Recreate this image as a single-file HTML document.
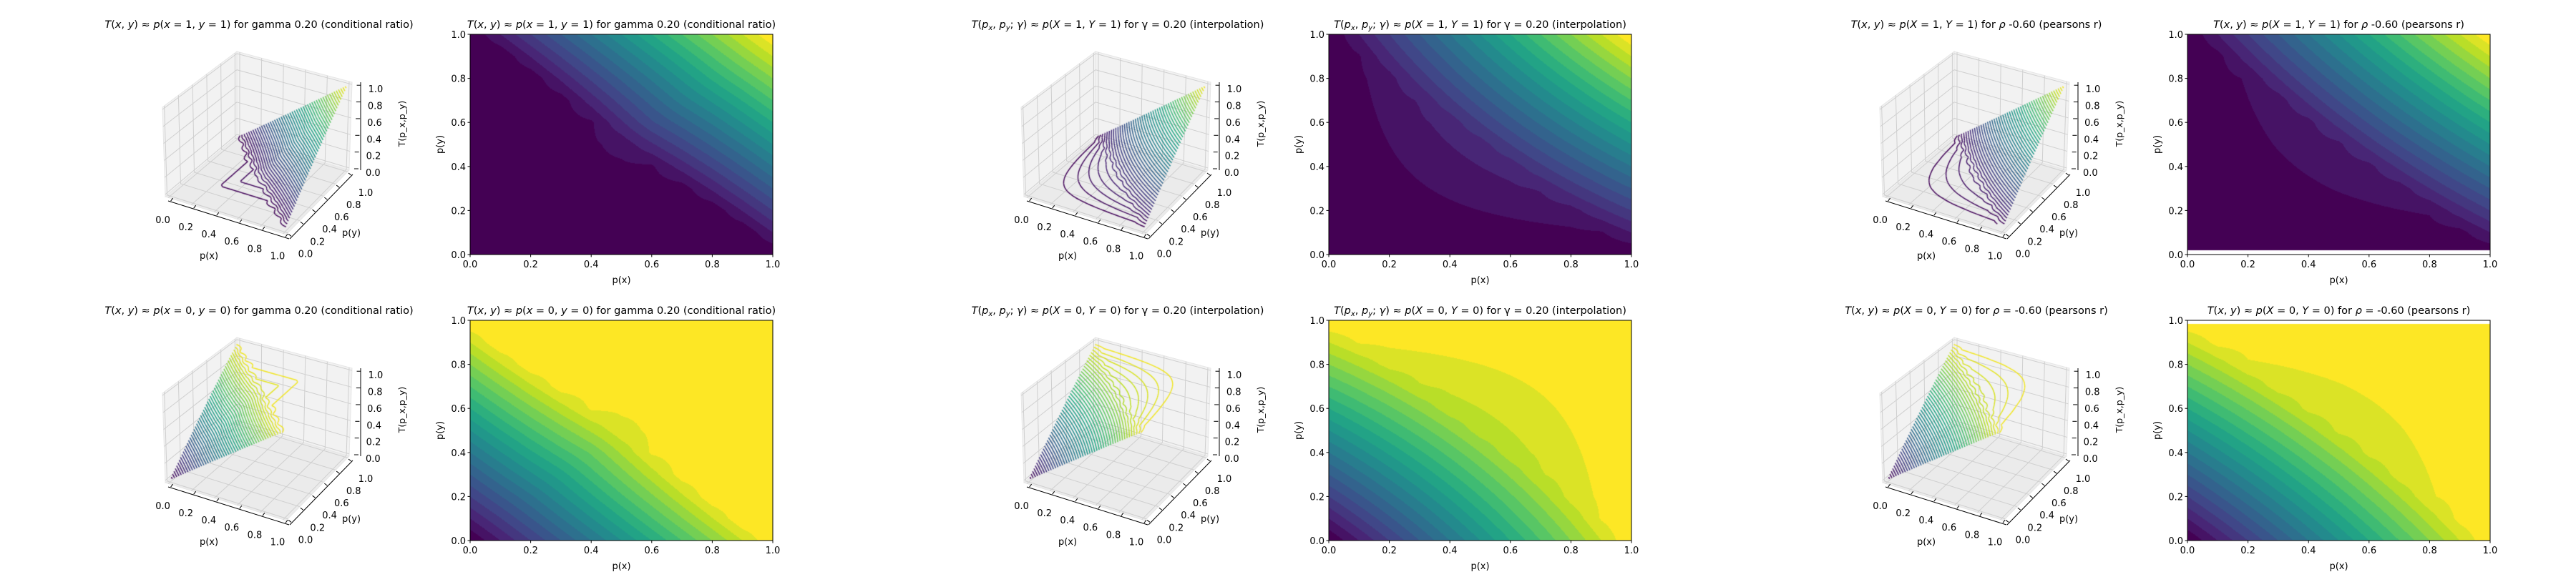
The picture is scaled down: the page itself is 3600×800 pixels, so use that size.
<!DOCTYPE html>
<html><head><meta charset="utf-8">
<style>
body{margin:0;background:#fff;width:3600px;height:800px;overflow:hidden;position:relative;font-family:"DejaVu Sans","Liberation Sans",sans-serif}
svg,canvas{position:absolute;left:0;top:0}
text{font-family:"DejaVu Sans","Liberation Sans",sans-serif;fill:#000}
</style></head>
<body>
<svg id="under" width="3600" height="800"></svg>
<canvas id="cv" width="3600" height="800"></canvas>
<svg id="over" width="3600" height="800"></svg>
<script>
// ---- chart data ----
const tickValues = [0, 0.2, 0.4, 0.6, 0.8, 1.0];
const tickLabels = ['0.0', '0.2', '0.4', '0.6', '0.8', '1.0'];
const fillLevelStep = 0.05;
const lineLevelCount = 50;
// grids: rows = p(y) 0..1 step 0.1, cols = p(x) 0..1 step 0.1
const gridCond11 = [
[0,0,0,0,0,0,0,0,0,0,0],
[0,.003,.003,.003,.003,.003,.003,.003,.003,.003,.1],
[0,.003,.01,.01,.01,.01,.01,.01,.01,.103,.2],
[0,.003,.01,.023,.023,.023,.023,.023,.11,.203,.3],
[0,.003,.01,.023,.042,.042,.042,.123,.21,.303,.4],
[0,.003,.01,.023,.042,.065,.142,.223,.31,.403,.5],
[0,.003,.01,.023,.042,.142,.242,.323,.41,.503,.6],
[0,.003,.01,.023,.123,.223,.323,.423,.51,.603,.7],
[0,.003,.01,.11,.21,.31,.41,.51,.61,.703,.8],
[0,.003,.103,.203,.303,.403,.503,.603,.703,.803,.9],
[0,.1,.2,.3,.4,.5,.6,.7,.8,.9,1]];
const gridCond00 = [
[0,.1,.2,.3,.4,.5,.6,.7,.8,.9,1],
[.1,.197,.297,.397,.497,.597,.697,.797,.897,.997,1],
[.2,.297,.39,.49,.59,.69,.79,.89,.99,.997,1],
[.3,.397,.49,.577,.677,.777,.877,.977,.99,.997,1],
[.4,.497,.59,.677,.758,.858,.958,.977,.99,.997,1],
[.5,.597,.69,.777,.858,.935,.958,.977,.99,.997,1],
[.6,.697,.79,.877,.958,.958,.958,.977,.99,.997,1],
[.7,.797,.89,.977,.977,.977,.977,.977,.99,.997,1],
[.8,.897,.99,.99,.99,.99,.99,.99,.99,.997,1],
[.9,.997,.997,.997,.997,.997,.997,.997,.997,.997,1],
[1,1,1,1,1,1,1,1,1,1,1]];
const gridInterp11 = [
[0,0,0,0,0,0,0,0,0,0,0],
[0,.005,.01,.015,.02,.025,.03,.035,.04,.045,.1],
[0,.01,.02,.03,.04,.05,.06,.07,.08,.14,.2],
[0,.015,.03,.045,.06,.075,.09,.105,.17,.235,.3],
[0,.02,.04,.06,.08,.1,.12,.19,.26,.33,.4],
[0,.025,.05,.075,.1,.125,.2,.275,.35,.425,.5],
[0,.03,.06,.09,.12,.2,.28,.36,.44,.52,.6],
[0,.035,.07,.105,.19,.275,.36,.445,.53,.615,.7],
[0,.04,.08,.17,.26,.35,.44,.53,.62,.71,.8],
[0,.045,.14,.235,.33,.425,.52,.615,.71,.805,.9],
[0,.1,.2,.3,.4,.5,.6,.7,.8,.9,1]];
const gridInterp00 = [
[0,.1,.2,.3,.4,.5,.6,.7,.8,.9,1],
[.1,.195,.29,.385,.48,.575,.67,.765,.86,.955,1],
[.2,.29,.38,.47,.56,.65,.74,.83,.92,.96,1],
[.3,.385,.47,.555,.64,.725,.81,.895,.93,.965,1],
[.4,.48,.56,.64,.72,.8,.88,.91,.94,.97,1],
[.5,.575,.65,.725,.8,.875,.9,.925,.95,.975,1],
[.6,.67,.74,.81,.88,.9,.92,.94,.96,.98,1],
[.7,.765,.83,.895,.91,.925,.94,.955,.97,.985,1],
[.8,.86,.92,.93,.94,.95,.96,.97,.98,.99,1],
[.9,.955,.96,.965,.97,.975,.98,.985,.99,.995,1],
[1,1,1,1,1,1,1,1,1,1,1]];
const gridPearson11 = [
[0,0,0,0,0,0,0,0,0,0,0],
[0,.004,.007,.011,.014,.018,.021,.025,.028,.032,.1],
[0,.007,.014,.021,.028,.035,.042,.049,.056,.128,.2],
[0,.011,.021,.032,.042,.053,.063,.074,.149,.225,.3],
[0,.014,.028,.042,.056,.07,.084,.163,.242,.321,.4],
[0,.018,.035,.053,.07,.088,.17,.253,.335,.418,.5],
[0,.021,.042,.063,.084,.17,.256,.342,.428,.514,.6],
[0,.025,.049,.074,.163,.253,.342,.432,.521,.611,.7],
[0,.028,.056,.149,.242,.335,.428,.521,.614,.707,.8],
[0,.032,.128,.225,.321,.418,.514,.611,.707,.804,.9],
[0,.1,.2,.3,.4,.5,.6,.7,.8,.9,1]];
const gridPearson00 = [
[0,.1,.2,.3,.4,.5,.6,.7,.8,.9,1],
[.1,.196,.293,.389,.486,.582,.679,.775,.872,.968,1],
[.2,.293,.386,.479,.572,.665,.758,.851,.944,.972,1],
[.3,.389,.479,.568,.658,.747,.837,.926,.951,.975,1],
[.4,.486,.572,.658,.744,.83,.916,.937,.958,.979,1],
[.5,.582,.665,.747,.83,.912,.93,.947,.965,.982,1],
[.6,.679,.758,.837,.916,.93,.944,.958,.972,.986,1],
[.7,.775,.851,.926,.937,.947,.958,.968,.979,.989,1],
[.8,.872,.944,.951,.958,.965,.972,.979,.986,.993,1],
[.9,.968,.972,.975,.979,.982,.986,.989,.993,.996,1],
[1,1,1,1,1,1,1,1,1,1,1]];
// valid p(y) range (outside is undefined / white)
const validYMin = [0, 0, 0, 0, 0.02, 0];
const validYMax = [1, 1, 1, 1, 1, 0.984];
const panelGrids = [gridCond11, gridCond00, gridInterp11, gridInterp00, gridPearson11, gridPearson00];

const I='i', N='n', S='s';
const titles = [
 [[I,'T'],[N,'('],[I,'x'],[N,', '],[I,'y'],[N,') ≈ '],[I,'p'],[N,'('],[I,'x'],[N,' = 1, '],[I,'y'],[N,' = 1) for gamma 0.20 (conditional ratio)']],
 [[I,'T'],[N,'('],[I,'x'],[N,', '],[I,'y'],[N,') ≈ '],[I,'p'],[N,'('],[I,'x'],[N,' = 0, '],[I,'y'],[N,' = 0) for gamma 0.20 (conditional ratio)']],
 [[I,'T'],[N,'('],[I,'p'],[S,'x'],[N,', '],[I,'p'],[S,'y'],[N,'; '],[I,'γ'],[N,') ≈ '],[I,'p'],[N,'('],[I,'X'],[N,' = 1, '],[I,'Y'],[N,' = 1) for γ =  0.20 (interpolation)']],
 [[I,'T'],[N,'('],[I,'p'],[S,'x'],[N,', '],[I,'p'],[S,'y'],[N,'; '],[I,'γ'],[N,') ≈ '],[I,'p'],[N,'('],[I,'X'],[N,' = 0, '],[I,'Y'],[N,' = 0) for γ =  0.20 (interpolation)']],
 [[I,'T'],[N,'('],[I,'x'],[N,', '],[I,'y'],[N,') ≈ '],[I,'p'],[N,'('],[I,'X'],[N,' = 1, '],[I,'Y'],[N,' = 1) for '],[I,'ρ'],[N,' -0.60 (pearsons r)']],
 [[I,'T'],[N,'('],[I,'x'],[N,', '],[I,'y'],[N,') ≈ '],[I,'p'],[N,'('],[I,'X'],[N,' = 0, '],[I,'Y'],[N,' = 0) for '],[I,'ρ'],[N,' =  -0.60 (pearsons r)']]
];

// ---- styling / geometry ----
const VIR = ['#440154','#482475','#414487','#355f8d','#2a788e','#21918c','#22a884','#44bf70','#7ad151','#bddf26','#fde725'];
const VIRRGB = VIR.map(h=>[parseInt(h.substr(1,2),16),parseInt(h.substr(3,2),16),parseInt(h.substr(5,2),16)]);
function viridis(t){t=Math.max(0,Math.min(1,t));const f=t*10,i=Math.min(9,Math.floor(f)),u=f-i;const a=VIRRGB[i],b=VIRRGB[i+1];return [a[0]+(b[0]-a[0])*u,a[1]+(b[1]-a[1])*u,a[2]+(b[2]-a[2])*u];}
const HM = {x:657, y:48, w:423, h:308};
const C00=[231,275],C10=[400,328],C11=[488,238],C01=[331,191];
const V00=[-4,-125],V10=[0,-124],V11=[4,-123],V01=[0,-119];
const MG = 0.025;
function l2(a,b,c,d,x,y){return [(1-x)*(1-y)*a[0]+x*(1-y)*b[0]+(1-x)*y*c[0]+x*y*d[0],(1-x)*(1-y)*a[1]+x*(1-y)*b[1]+(1-x)*y*c[1]+x*y*d[1]];}
function Pb(ox,oy,x,y,z){const f=l2(C00,C10,C01,C11,x,y),v=l2(V00,V10,V01,V11,x,y);return [f[0]+z*v[0]+ox,f[1]+z*v[1]+oy];}
function B(t){return MG+t*(1-2*MG);}
function P(ox,oy,x,y,z){return Pb(ox,oy,B(x),B(y),B(z));}
function sample(g,x,y){const fx=x*10,fy=y*10;const i=Math.min(9,Math.max(0,Math.floor(fx))),j=Math.min(9,Math.max(0,Math.floor(fy)));const u=fx-i,v=fy-j;return (1-u)*(1-v)*g[j][i]+u*(1-v)*g[j][i+1]+(1-u)*v*g[j+1][i]+u*v*g[j+1][i+1];}

const NS='http://www.w3.org/2000/svg';
const under=document.getElementById('under'), over=document.getElementById('over');
const ctx=document.getElementById('cv').getContext('2d');
function el(parent,tag,attrs){const e=document.createElementNS(NS,tag);for(const k in attrs)e.setAttribute(k,attrs[k]);parent.appendChild(e);return e;}
function txt(parent,x,y,s,size,anchor){const t=el(parent,'text',{x:x,y:y,'font-size':size,'text-anchor':anchor||'middle'});t.textContent=s;return t;}
function title(parent,cx,y,parts){const t=el(parent,'text',{x:cx,y:y,'font-size':14.5,'text-anchor':'middle'});
 for(const p of parts){const s=document.createElementNS(NS,'tspan');s.textContent=p[1];
  if(p[0]==='i')s.setAttribute('font-style','italic');
  if(p[0]==='s'){s.setAttribute('font-style','italic');s.setAttribute('font-size','10');s.setAttribute('baseline-shift','-3');}
  t.appendChild(s);}
 return t;}
function pts(a){return a.map(p=>p[0].toFixed(1)+','+p[1].toFixed(1)).join(' ');}

for(let k=0;k<6;k++){
 const g=Math.floor(k/2), r=k%2, ox=1200*g, oy=400*r, grid=panelGrids[k];
 const yMin=validYMin[k], yMax=validYMax[k];
 // ----- panes -----
 const pg=el(under,'g',{});
 
 
 const floor=el(pg,'polygon',{points:pts([Pb(ox,oy,0,0,0),Pb(ox,oy,1,0,0),Pb(ox,oy,1,1,0),Pb(ox,oy,0,1,0)]),fill:'#ebebeb',stroke:'#e6e6e6'});
 
 
 const lw=el(pg,'polygon',{points:pts([Pb(ox,oy,0,0,0),Pb(ox,oy,0,1,0),Pb(ox,oy,0,1,1),Pb(ox,oy,0,0,1)]),fill:'#f2f2f2',stroke:'#e6e6e6'});
 
 
 const bw=el(pg,'polygon',{points:pts([Pb(ox,oy,0,1,0),Pb(ox,oy,1,1,0),Pb(ox,oy,1,1,1),Pb(ox,oy,0,1,1)]),fill:'#f2f2f2',stroke:'#e6e6e6'});
 
 
 for(const t of tickValues){const b=B(t);
  const segs=[[Pb(ox,oy,b,0,0),Pb(ox,oy,b,1,0)],[Pb(ox,oy,0,b,0),Pb(ox,oy,1,b,0)],
   [Pb(ox,oy,0,b,0),Pb(ox,oy,0,b,1)],[Pb(ox,oy,0,0,b),Pb(ox,oy,0,1,b)],
   [Pb(ox,oy,b,1,0),Pb(ox,oy,b,1,1)],[Pb(ox,oy,0,1,b),Pb(ox,oy,1,1,b)]];
  for(const s of segs){const gl=el(pg,'line',{x1:s[0][0],y1:s[0][1],x2:s[1][0],y2:s[1][1],stroke:'#cfcfcf','stroke-width':1});
   
   }
 }
 // ----- heatmap -----
 const hx=HM.x+ox, hy=HM.y+oy;
 const img=ctx.createImageData(HM.w,HM.h);
 const nb=Math.round(1/fillLevelStep);
 for(let py=0;py<HM.h;py++){const y=1-(py+0.5)/HM.h;
  for(let px=0;px<HM.w;px++){const x=(px+0.5)/HM.w;const o=(py*HM.w+px)*4;
   if(y<yMin||y>yMax){img.data[o]=255;img.data[o+1]=255;img.data[o+2]=255;img.data[o+3]=255;continue;}
   const v=sample(grid,x,y);const band=Math.max(0,Math.min(nb-1,Math.floor(v/fillLevelStep)));
   const c=viridis(band/(nb-1));img.data[o]=c[0];img.data[o+1]=c[1];img.data[o+2]=c[2];img.data[o+3]=255;}}
 ctx.putImageData(img,hx,hy);
 // ----- 3D contour lines -----
 const NN=60, vals=[];
 for(let j=0;j<=NN;j++){vals.push([]);for(let i=0;i<=NN;i++)vals[j].push(sample(grid,i/NN,j/NN));}
 ctx.lineWidth=1.5;
 for(let L=1;L<lineLevelCount;L++){const lev=L/lineLevelCount;const c=viridis(lev);
  ctx.strokeStyle='rgb('+c.map(Math.round).join(',')+')';ctx.beginPath();
  for(let j=0;j<NN;j++){const y0=j/NN,y1=(j+1)/NN;if(y0<yMin||y1>yMax)continue;
   for(let i=0;i<NN;i++){const x0=i/NN,x1=(i+1)/NN;
    const a=vals[j][i],b=vals[j][i+1],cc=vals[j+1][i+1],d=vals[j+1][i];
    const cr=[];
    const E=[[a,b,x0,y0,x1,y0],[b,cc,x1,y0,x1,y1],[cc,d,x1,y1,x0,y1],[d,a,x0,y1,x0,y0]];
    for(const e of E){if((e[0]<lev)!==(e[1]<lev)){const t=(lev-e[0])/(e[1]-e[0]);cr.push([e[2]+(e[4]-e[2])*t,e[3]+(e[5]-e[3])*t]);}}
    for(let q=0;q+1<cr.length;q+=2){const p1=P(ox,oy,cr[q][0],cr[q][1],lev),p2=P(ox,oy,cr[q+1][0],cr[q+1][1],lev);ctx.moveTo(p1[0],p1[1]);ctx.lineTo(p2[0],p2[1]);}
   }}
  ctx.stroke();}
 // ----- over layer: heatmap axes -----
 const ag=el(over,'g',{});
 
 
 const fr=el(ag,'rect',{x:hx,y:hy,width:HM.w,height:HM.h,fill:'none',stroke:'#000','stroke-width':1});
 
 
 tickValues.forEach((t,n)=>{
  const X=hx+t*HM.w, Y=hy+HM.h-t*HM.h;
  const tx=el(ag,'line',{x1:X,y1:hy+HM.h,x2:X,y2:hy+HM.h+3.5,stroke:'#000'});
  
  
  const lx=txt(ag,X,hy+HM.h+18,tickLabels[n],13);
  
  
  const ty=el(ag,'line',{x1:hx-3.5,y1:Y,x2:hx,y2:Y,stroke:'#000'});
  
  
  const ly=txt(ag,hx-6,Y+5,tickLabels[n],13,'end');
  
  
 });
 const xl=txt(ag,hx+HM.w/2,oy+396,'p(x)',13);
 
 
 const yl=txt(ag,0,0,'p(y)',13);yl.setAttribute('transform','translate('+(ox+619)+','+(oy+202)+') rotate(-90)');
 
 
 const t2=title(ag,hx+HM.w/2,oy+39,titles[k]);
 
 
 // ----- over layer: 3D axes -----
 const tg=el(over,'g',{});
 
 
 const t1=title(tg,ox+362,oy+39,titles[k]);
 
 
 const a0=Pb(ox,oy,0,0,0),a1=Pb(ox,oy,1,0,0),a2=Pb(ox,oy,1,1,0),a3=Pb(ox,oy,1,1,1);
 const xa=el(tg,'line',{x1:a0[0]+4,y1:a0[1]+6,x2:a1[0]+4,y2:a1[1]+6,stroke:'#000'});
 
 
 const ya=el(tg,'line',{x1:a1[0]+5,y1:a1[1]+6,x2:a2[0]+5,y2:a2[1]+6,stroke:'#000'});
 
 
 const za=el(tg,'line',{x1:a2[0]+16,y1:a2[1],x2:a3[0]+12,y2:a3[1],stroke:'#000'});
 
 
 tickValues.forEach((t,n)=>{
  const px=P(ox,oy,t,0,0);
  const tk1=el(tg,'line',{x1:px[0]+4,y1:px[1]+6,x2:px[0]+1,y2:px[1]+10,stroke:'#000'});
  
  
  const l1=txt(tg,px[0]-10,px[1]+41,tickLabels[n],13);
  
  
  const py=P(ox,oy,1,t,0);
  const tk2=el(tg,'line',{x1:py[0]+5,y1:py[1]+6,x2:py[0]+9,y2:py[1]+9,stroke:'#000'});
  
  
  const l2_=txt(tg,py[0]+29,py[1]+38,tickLabels[n],13);
  
  
  const pz=P(ox,oy,1,1,t);
  const tk3=el(tg,'line',{x1:pz[0]+13,y1:pz[1],x2:pz[0]+19,y2:pz[1],stroke:'#000'});
  
  
  const l3=txt(tg,pz[0]+29,pz[1]+10,tickLabels[n],13,'start');
  
  
 });
 const xl3=txt(tg,ox+292,oy+362,'p(x)',13);
 
 
 const yl3=txt(tg,ox+491,oy+330,'p(y)',13);
 
 
 const zl3=txt(tg,0,0,'T(p_x,p_y)',12.5);zl3.setAttribute('transform','translate('+(ox+566)+','+(oy+173)+') rotate(-90)');
 
 
}
</script>
</body></html>
